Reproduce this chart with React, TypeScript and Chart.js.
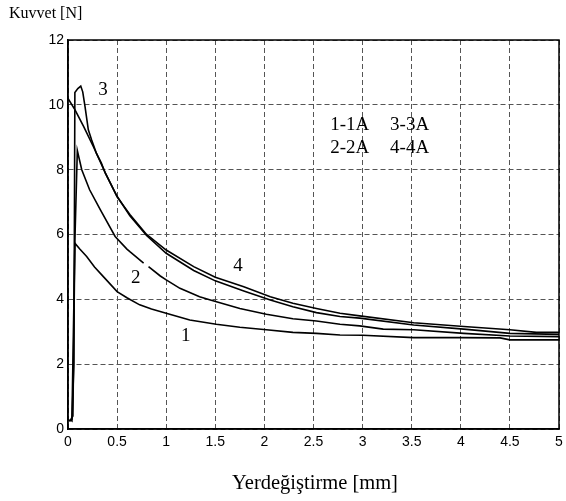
import React, { useEffect, useRef } from "react";
import { Chart, registerables } from "chart.js";

Chart.register(...registerables);

// Curve 1 (1-1A)
const x1 = [0.0, 0.02, 0.04, 0.07, 0.12, 0.19, 0.27, 0.36, 0.5, 0.6, 0.73, 0.85, 1.0, 1.24, 1.51, 1.75, 2.02, 2.29, 2.53, 2.77, 3.0, 3.52, 4.0, 4.4, 4.5, 5.0];
const y1 = [0.3, 0.25, 0.3, 5.73, 5.55, 5.32, 5.0, 4.7, 4.24, 4.05, 3.83, 3.7, 3.57, 3.36, 3.23, 3.14, 3.06, 2.98, 2.95, 2.9, 2.89, 2.82, 2.82, 2.81, 2.75, 2.75];

// Curve 2 (2-2A), NaN marks the small break in the line
const x2 = [0.03, 0.05, 0.07, 0.095, 0.14, 0.22, 0.33, 0.48, 0.6, 0.63, 0.77, 0.79, 0.82, 0.94, 1.0, 1.14, 1.34, 1.45, 1.75, 2.02, 2.29, 2.53, 2.77, 2.97, 3.21, 3.52, 4.03, 4.5, 5.0];
const y2 = [0.3, 0.4, 5.8, 8.59, 8.0, 7.38, 6.76, 5.94, 5.55, 5.47, 5.12, NaN, 5.01, 4.72, 4.6, 4.34, 4.08, 3.98, 3.72, 3.54, 3.4, 3.33, 3.23, 3.18, 3.08, 3.06, 2.95, 2.87, 2.85];

// Curve 3 (3-3A)
const x3 = [0.02, 0.04, 0.06, 0.07, 0.1, 0.13, 0.15, 0.173, 0.207, 0.24, 0.29, 0.34, 0.38, 0.5, 0.63, 0.8, 1.0, 1.28, 1.5, 1.79, 2.06, 2.29, 2.53, 2.77, 2.97, 3.52, 4.03, 4.5, 5.0];
const y3 = [0.3, 0.25, 2.0, 10.38, 10.5, 10.58, 10.4, 9.95, 9.23, 8.92, 8.5, 8.2, 7.89, 7.18, 6.58, 5.97, 5.42, 4.89, 4.57, 4.26, 3.98, 3.77, 3.59, 3.47, 3.42, 3.21, 3.08, 2.95, 2.92];

// Curve 4 (4-4A)
const x4 = [0.0, 0.07, 0.16, 0.26, 0.38, 0.5, 0.63, 0.8, 1.0, 1.28, 1.5, 1.79, 2.06, 2.29, 2.53, 2.77, 2.97, 3.52, 4.03, 4.5, 4.77, 5.0];
const y4 = [10.2, 9.85, 9.33, 8.7, 7.9, 7.16, 6.62, 6.0, 5.52, 5.01, 4.68, 4.39, 4.08, 3.88, 3.72, 3.57, 3.49, 3.28, 3.16, 3.06, 2.98, 2.98];

const curveLabels = ["1", "2", "3", "4"];
const legendTexts = ["1-1A", "2-2A", "3-3A", "4-4A"];
const xTitle = "Yerdeğiştirme [mm]";
const yTitle = "Kuvvet [N]";

const toPoints = (xs: number[], ys: number[]) =>
  xs.map((x, i) => ({ x, y: Number.isNaN(ys[i]) ? null : ys[i] }));

const SERIF = '"Liberation Serif", "Times New Roman", serif';
const SANS = '"Liberation Sans", Arial, sans-serif';

export default function App() {
  const ref = useRef<HTMLCanvasElement | null>(null);

  useEffect(() => {
    if (!ref.current) return;

    const labelPos = [
      { x: 1.2, y: 2.87 },
      { x: 0.69, y: 4.65 },
      { x: 0.356, y: 10.46 },
      { x: 1.73, y: 5.03 },
    ];
    const legendPos = [
      { x: 2.67, y: 9.38 },
      { x: 2.67, y: 8.67 },
      { x: 3.28, y: 9.38 },
      { x: 3.28, y: 8.67 },
    ];

    const decor = {
      id: "decor",
      afterDraw(chart: any) {
        const { ctx, chartArea: a, scales } = chart;
        ctx.save();
        ctx.setLineDash([]);
        ctx.strokeStyle = "#000";
        ctx.lineWidth = 1.5;
        ctx.strokeRect(a.left, a.top, a.right - a.left, a.bottom - a.top);
        ctx.fillStyle = "#000";
        ctx.font = `19px ${SERIF}`;
        ctx.textAlign = "center";
        ctx.textBaseline = "middle";
        curveLabels.forEach((t, i) => {
          ctx.fillText(t, scales.x.getPixelForValue(labelPos[i].x), scales.y.getPixelForValue(labelPos[i].y));
        });
        ctx.textAlign = "left";
        legendTexts.forEach((t, i) => {
          ctx.fillText(t, scales.x.getPixelForValue(legendPos[i].x), scales.y.getPixelForValue(legendPos[i].y));
        });
        ctx.font = `16px ${SERIF}`;
        ctx.textAlign = "left";
        ctx.textBaseline = "alphabetic";
        ctx.fillText(yTitle, 9, 18);
        ctx.font = `20.5px ${SERIF}`;
        ctx.textAlign = "center";
        ctx.fillText(xTitle, 315, 489);
        ctx.restore();
      },
    };

    const mk = (xs: number[], ys: number[]) => ({
      data: toPoints(xs, ys),
      borderColor: "#000",
      borderWidth: 1.6,
      pointRadius: 0,
      fill: false,
      tension: 0,
      spanGaps: false,
    });

    const chart = new Chart(ref.current, {
      type: "line",
      data: {
        datasets: [mk(x1, y1), mk(x2, y2), mk(x3, y3), mk(x4, y4)],
      },
      options: {
        animation: false,
        responsive: false,
        parsing: false,
        layout: { padding: { left: 0, top: 40, right: 7, bottom: 0 } },
        plugins: { legend: { display: false }, tooltip: { enabled: false } },
        scales: {
          x: {
            type: "linear",
            min: 0,
            max: 5,
            afterFit: (s: any) => {
              s.height = 72;
              s.paddingLeft = 0;
              s.paddingRight = 0;
            },
            ticks: {
              stepSize: 0.5,
              color: "#000",
              font: { family: SANS, size: 14 },
              padding: 5,
              maxRotation: 0,
              callback: (v: any) => String(Number(v)),
            },
            grid: {
              color: "#555",
              lineWidth: 1,
              drawTicks: false,
            },
            border: { display: true, color: "#000", width: 1.5, dash: [5, 3] },
          },
          y: {
            type: "linear",
            min: 0,
            max: 12,
            afterFit: (s: any) => {
              s.width = 68;
            },
            ticks: {
              stepSize: 2,
              color: "#000",
              font: { family: SANS, size: 14 },
              padding: 4,
              callback: (v: any) => String(Number(v)),
            },
            grid: {
              color: "#555",
              lineWidth: 1,
              drawTicks: false,
            },
            border: { display: true, color: "#000", width: 1.5, dash: [5, 3] },
          },
        },
      },
      plugins: [decor],
    } as any);

    return () => chart.destroy();
  }, []);

  return (
    <div style={{ position: "absolute", left: 0, top: 0, width: 566, height: 501, background: "#fff" }}>
      <canvas ref={ref} width={566} height={501} style={{ width: 566, height: 501, display: "block" }} />
    </div>
  );
}
